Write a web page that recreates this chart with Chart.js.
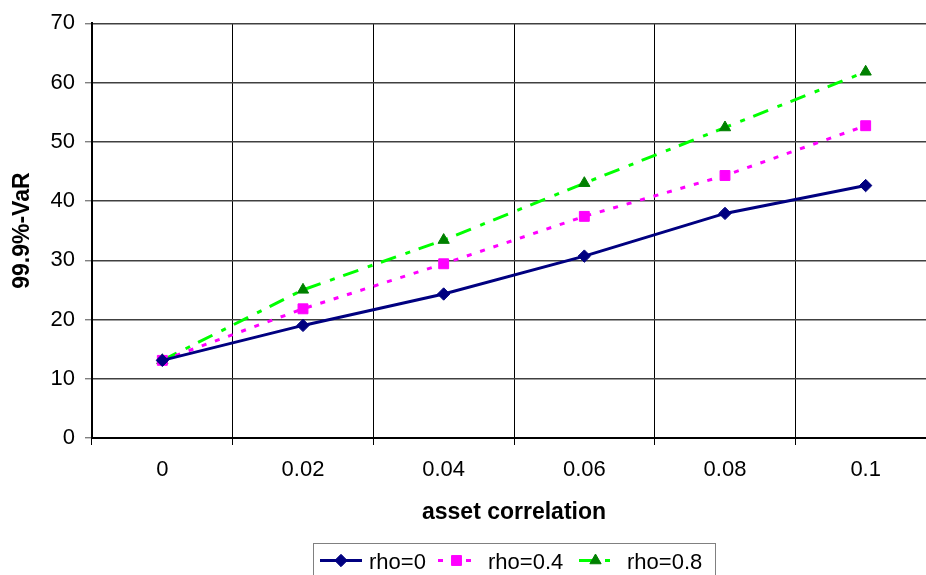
<!DOCTYPE html>
<html>
<head>
<meta charset="utf-8">
<script src="https://cdn.jsdelivr.net/npm/chart.js@4/dist/chart.umd.min.js"></script>
<style>
  html, body { margin: 0; padding: 0; background: #fff; overflow: hidden; }
  #wrap { width: 926px; height: 575px; overflow: hidden; position: relative; }
  #box { width: 946px; height: 575px; position: absolute; left: 0; top: 0; }
</style>
</head>
<body>
<div id="wrap"><div id="box"><canvas id="c" width="946" height="575"></canvas></div></div>
<script>
const categories = ['0', '0.02', '0.04', '0.06', '0.08', '0.1'];
const rho0  = [13.1, 19.0, 24.3, 30.7, 37.9, 42.6];
const rho04 = [13.1, 21.8, 29.4, 37.4, 44.3, 52.7];
const rho08 = [13.1, 25.0, 33.4, 43.0, 52.4, 61.8];
const yTicks = [0, 10, 20, 30, 40, 50, 60, 70];
const seriesNames = ['rho=0', 'rho=0.4', 'rho=0.8'];

const FONT = '"Liberation Sans", Arial, sans-serif';

const legendPlugin = {
  id: 'boxLegend',
  afterDraw(chart) {
    const ctx = chart.ctx;
    ctx.save();
    const x0 = 313.5, y0 = 543.5, w = 402, h = 40;
    ctx.strokeStyle = '#808080';
    ctx.lineWidth = 1;
    ctx.strokeRect(x0, y0, w, h);
    const items = [
      { ds: 0, lx1: 320, lx2: 362, tx: 369 },
      { ds: 1, lx1: 438, lx2: 475, tx: 488 },
      { ds: 2, lx1: 579, lx2: 612, tx: 627 }
    ];
    const cy = 560.5;
    items.forEach(it => {
      const ds = chart.data.datasets[it.ds];
      ctx.save();
      ctx.strokeStyle = ds.borderColor;
      ctx.lineWidth = 3;
      ctx.setLineDash(ds.borderDash || []);
      ctx.beginPath();
      ctx.moveTo(it.lx1, cy);
      ctx.lineTo(it.lx2, cy);
      ctx.stroke();
      ctx.restore();
      ctx.fillStyle = ds.pointBackgroundColor;
      ctx.strokeStyle = ds.pointBorderColor;
      Chart.helpers.drawPoint(ctx, {
        pointStyle: ds.pointStyle,
        rotation: 0,
        radius: ds.pointRadius,
        borderWidth: 1
      }, (it.lx1 + it.lx2) / 2, cy);
      ctx.fillStyle = '#000';
      ctx.font = '22px ' + FONT;
      ctx.textBaseline = 'alphabetic';
      ctx.textAlign = 'left';
      ctx.fillText(seriesNames[it.ds], it.tx, 569);
    });
    ctx.restore();
  }
};

new Chart(document.getElementById('c'), {
  type: 'line',
  data: {
    labels: categories,
    datasets: [
      {
        label: seriesNames[0], data: rho0,
        borderColor: '#000080', borderWidth: 3,
        pointStyle: 'rectRot', pointRadius: 6.2,
        pointBackgroundColor: '#000080', pointBorderColor: '#000080', pointBorderWidth: 1,
        tension: 0
      },
      {
        label: seriesNames[1], data: rho04,
        borderColor: '#FF00FF', borderWidth: 3, borderDash: [5, 9],
        pointStyle: 'rect', pointRadius: 7,
        pointBackgroundColor: '#FF00FF', pointBorderColor: '#FF00FF', pointBorderWidth: 1,
        tension: 0
      },
      {
        label: seriesNames[2], data: rho08,
        borderColor: '#00FF00', borderWidth: 3, borderDash: [16, 10, 5, 9],
        pointStyle: 'triangle', pointRadius: 6.5,
        pointBackgroundColor: '#008000', pointBorderColor: '#008000', pointBorderWidth: 1,
        tension: 0
      }
    ]
  },
  options: {
    responsive: false,
    animation: false,
    devicePixelRatio: 1,
    layout: { padding: { left: 9, right: 10, top: 21, bottom: 49 } },
    plugins: { legend: { display: false }, tooltip: { enabled: false } },
    scales: {
      x: {
        type: 'category',
        offset: true,
        grid: { offset: true, color: '#000', lineWidth: 1, tickLength: 7, tickColor: '#000', drawTicks: true },
        border: { color: '#000', width: 2 },
        ticks: { color: '#000', font: { family: FONT, size: 22 }, padding: 12, maxRotation: 0, autoSkip: false },
        title: { display: true, text: 'asset correlation', color: '#000', font: { family: FONT, size: 23, weight: 'bold' }, padding: 0 },
        afterFit(scale) { scale.height = 88; }
      },
      y: {
        min: 0, max: 70,
        afterBuildTicks(scale) { scale.ticks = yTicks.map(v => ({ value: v })); },
        grid: { color: '#404040', lineWidth: 1.4, tickLength: 7, tickColor: '#808080' },
        border: { color: '#000', width: 2 },
        ticks: { color: '#000', font: { family: FONT, size: 22 }, padding: 10 },
        title: { display: true, text: '99.9%-VaR', color: '#000', font: { family: FONT, size: 23, weight: 'bold' }, padding: 0 },
        afterFit(scale) { scale.width = 83; }
      }
    }
  },
  plugins: [legendPlugin]
});
</script>
</body>
</html>
